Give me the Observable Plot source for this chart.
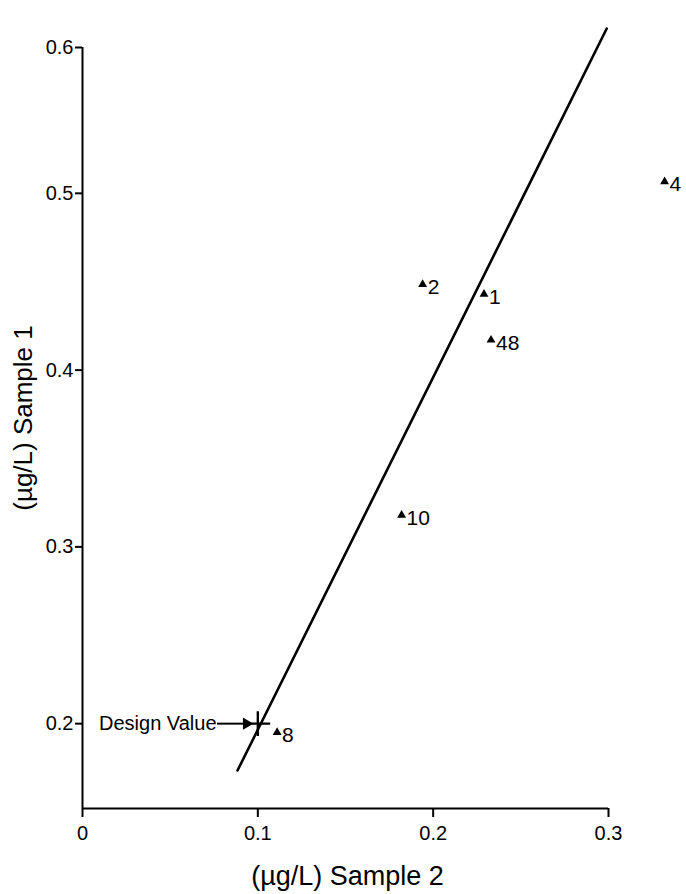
<!DOCTYPE html>
<html>
<head>
<meta charset="utf-8">
<script src="https://cdn.jsdelivr.net/npm/d3@7"></script>
<script src="https://cdn.jsdelivr.net/npm/@observablehq/plot@0.6"></script>
<style>
  html, body { margin: 0; padding: 0; background: #fff; }
  #chart svg { display: block; }
</style>
</head>
<body>
<div id="chart"></div>
<script>
// Laboratory points: Sample 2 (x) vs Sample 1 (y), µg/L
const labIds   = ["4", "2", "1", "48", "10", "8"];
const sample2  = [0.332, 0.194, 0.229, 0.233, 0.182, 0.111];
const sample1  = [0.508, 0.4485, 0.443, 0.417, 0.318, 0.195];

// Reference line endpoints
const lineX = [0.0884, 0.299];
const lineY = [0.1735, 0.613];

// Design value
const designX = 0.1, designY = 0.2;
const designLabel = "Design Value";
const arrowX = [0.077, 0.0935];

// Axes
const xTicks = [0, 0.1, 0.2, 0.3];
const xTickLabels = ["0", "0.1", "0.2", "0.3"];
const yTicks = [0.2, 0.3, 0.4, 0.5, 0.6];
const yTickLabels = ["0.2", "0.3", "0.4", "0.5", "0.6"];
const yMin = 0.152;
const xTitle = "(µg/L) Sample 2";
const yTitle = "(µg/L) Sample 1";

// the printed axis is compressed above 0.5
const yBreak = 0.5, yUpperScale = 0.825;
const yT = (v) => (v > yBreak ? yBreak + (v - yBreak) * yUpperScale : v);

const points = labIds.map((id, i) => ({id, x: sample2[i], y: sample1[i]}));
const lineData = lineX.map((x, i) => ({x, y: lineY[i]}));
const yTickPos = yTicks.map(yT);

const W = 686, H = 894;
const mL = 82, mR = 78, mT = 47, mB = 86;

const chart = Plot.plot({
  width: W,
  height: H,
  marginLeft: mL,
  marginRight: mR,
  marginTop: mT,
  marginBottom: mB,
  style: {fontFamily: "'Liberation Sans', Arial, sans-serif", fontSize: "20px", background: "#fff", color: "#000", overflow: "visible"},
  x: {domain: [0, 0.3]},
  y: {transform: yT, domain: [yMin, yT(0.6)]},
  marks: [
    Plot.ruleX([0], {stroke: "#000", strokeWidth: 2}),
    Plot.ruleY([yMin], {stroke: "#000", strokeWidth: 2}),
    Plot.axisX({
      ticks: xTicks,
      tickFormat: (d) => xTickLabels[xTicks.indexOf(d)],
      tickSize: 9,
      tickPadding: 8,
      strokeWidth: 2,
      label: null
    }),
    Plot.axisY({
      ticks: yTickPos,
      tickFormat: (d) => yTickLabels[yTickPos.indexOf(d)],
      tickSize: 7,
      tickPadding: 2,
      strokeWidth: 2,
      label: null
    }),
    Plot.line(lineData, {x: "x", y: "y", stroke: "#000", strokeWidth: 2.6}),
    Plot.dot(points, {x: "x", y: "y", symbol: "triangle", r: 3.3, fill: "#000", stroke: "none"}),
    Plot.text(points, {x: "x", y: "y", text: "id", textAnchor: "start", dx: 5, dy: 3, fontSize: 21, fill: "#000"}),
    // Design value marker
    Plot.dot([{x: designX, y: designY}], {x: "x", y: "y", symbol: "plus", r: 8, stroke: "#000", strokeWidth: 2.4}),
    Plot.ruleY([designY], {x1: arrowX[0], x2: arrowX[1], stroke: "#000", strokeWidth: 2}),
    Plot.dot([{x: arrowX[1], y: designY}], {x: "x", y: "y", symbol: "triangle", r: 4.5, rotate: 90, fill: "#000", stroke: "none"}),
    Plot.text([designLabel], {x: arrowX[0], y: designY, text: (d) => d, textAnchor: "end", dx: -1, fontSize: 20, fill: "#000"}),
    // Axis titles
    Plot.text([xTitle], {frameAnchor: "bottom", text: (d) => d, textAnchor: "middle", lineAnchor: "middle", dy: 68, dx: 2, fontSize: 27, fill: "#000"}),
    Plot.text([yTitle], {frameAnchor: "left", text: (d) => d, textAnchor: "middle", lineAnchor: "middle", rotate: -90, dx: -59, dy: -10, fontSize: 26, fill: "#000"})
  ]
});

document.getElementById("chart").appendChild(chart);
</script>
</body>
</html>
